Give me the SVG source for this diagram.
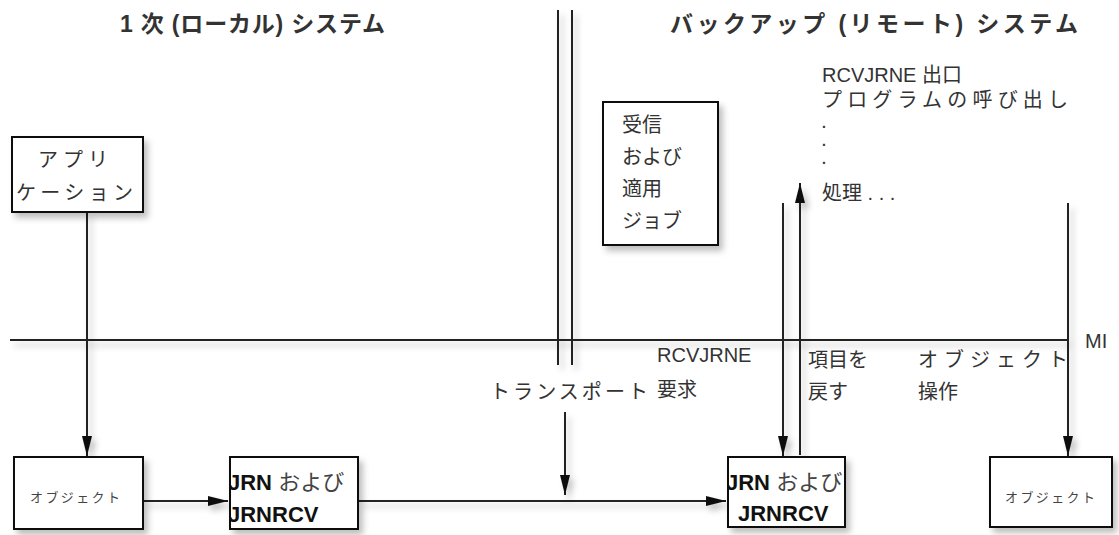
<svg xmlns="http://www.w3.org/2000/svg" width="1119" height="535" viewBox="0 0 1119 535">
<defs>
<filter id="sh" filterUnits="userSpaceOnUse" x="0" y="0" width="1119" height="535">
<feDropShadow dx="4" dy="5" stdDeviation="3" flood-color="#000" flood-opacity="0.25"/>
</filter>
<marker id="ah" markerWidth="20" markerHeight="10" refX="20" refY="5" orient="auto" markerUnits="userSpaceOnUse">
<path d="M0,0 L20,5 L0,10 z" fill="#111"/>
</marker>
<clipPath id="c1"><rect x="231" y="458" width="126" height="70"/></clipPath>
<clipPath id="c2"><rect x="729" y="458" width="115" height="68"/></clipPath>
</defs>
<style>
.box{fill:#fff;stroke:#111;stroke-width:2}
.ln{stroke:#222;stroke-width:2;fill:none}
.t{font-family:"Liberation Sans","Noto Sans CJK JP",sans-serif;font-size:20px;fill:#333}
.tt{font-family:"Liberation Sans","Noto Sans CJK JP",sans-serif;font-size:23px;font-weight:bold;fill:#333}
.b{font-family:"Liberation Sans","Noto Sans CJK JP",sans-serif;font-size:22px;font-weight:bold;fill:#111}
.n{font-weight:normal;fill:#444}
.s{font-family:"Liberation Sans","Noto Sans CJK JP",sans-serif;font-size:13px;fill:#444}
.d{font-family:"Liberation Sans",sans-serif;font-size:14px;font-weight:bold;fill:#333}
</style>
<rect width="1119" height="535" fill="#fff"/>

<g id="titles">
<text class="tt" x="120" y="32" textLength="265" lengthAdjust="spacing">1 次 (ローカル) システム</text>
<text class="tt" x="670" y="32" textLength="408" lengthAdjust="spacing">バックアップ (リモート) システム</text>
</g>

<g id="connectors" filter="url(#sh)">
<line class="ln" x1="10" y1="340" x2="1068" y2="340"/>
<line class="ln" x1="558" y1="10" x2="558" y2="365"/>
<line class="ln" x1="572" y1="10" x2="572" y2="365"/>
<line class="ln" x1="87" y1="212" x2="87" y2="456" marker-end="url(#ah)"/>
<line class="ln" x1="143" y1="501" x2="228" y2="501" marker-end="url(#ah)"/>
<line class="ln" x1="358" y1="501" x2="726" y2="501" marker-end="url(#ah)"/>
<line class="ln" x1="565" y1="412" x2="565" y2="495" marker-end="url(#ah)"/>
<line class="ln" x1="783" y1="203" x2="783" y2="456" marker-end="url(#ah)"/>
<line class="ln" x1="800" y1="455" x2="800" y2="183" marker-end="url(#ah)"/>
<line class="ln" x1="1068" y1="203" x2="1068" y2="456" marker-end="url(#ah)"/>
</g>

<g id="app">
<rect class="box" x="12" y="137" width="131" height="75" filter="url(#sh)"/>
<text class="t" x="38" y="167" textLength="70" lengthAdjust="spacing">アプリ</text>
<text class="t" x="16" y="200" textLength="117" lengthAdjust="spacing">ケーション</text>
</g>

<g id="obj1">
<rect class="box" x="14" y="457" width="129" height="72" filter="url(#sh)"/>
<text class="s" x="30" y="502" textLength="90" lengthAdjust="spacing">オブジェクト</text>
</g>

<g id="jrn1">
<rect class="box" x="230" y="457" width="128" height="72" filter="url(#sh)"/>
<g clip-path="url(#c1)">
<text class="b" x="228" y="490">JRN <tspan class="n">および</tspan></text>
<text class="b" x="228" y="522">JRNRCV</text>
</g>
</g>

<g id="recv">
<rect class="box" x="603" y="102" width="115" height="143" filter="url(#sh)"/>
<text class="t" x="622" y="132">受信</text>
<text class="t" x="622" y="164">および</text>
<text class="t" x="622" y="196">適用</text>
<text class="t" x="622" y="228">ジョブ</text>
</g>

<g id="jrn2">
<rect class="box" x="728" y="457" width="117" height="70" filter="url(#sh)"/>
<g clip-path="url(#c2)">
<text class="b" x="726" y="490">JRN <tspan class="n">および</tspan></text>
<text class="b" x="738" y="521">JRNRCV</text>
</g>
</g>

<g id="obj2">
<rect class="box" x="990" y="457" width="122" height="70" filter="url(#sh)"/>
<text class="s" x="1005" y="502" textLength="90" lengthAdjust="spacing">オブジェクト</text>
</g>

<g id="labels">
<text class="t" x="822" y="82">RCVJRNE 出口</text>
<text class="t" x="822" y="107" textLength="246" lengthAdjust="spacing">プログラムの呼び出し</text>
<text class="d" x="822" y="128">.</text>
<text class="d" x="822" y="146">.</text>
<text class="d" x="822" y="164">.</text>
<text class="t" x="822" y="200">処理 . . .</text>
<text class="t" x="1085" y="348">MI</text>
<text class="t" x="657" y="362">RCVJRNE</text>
<text class="t" x="490" y="399" textLength="158" lengthAdjust="spacing">トランスポート</text>
<text class="t" x="657" y="397">要求</text>
<text class="t" x="808" y="367">項目を</text>
<text class="t" x="808" y="399">戻す</text>
<text class="t" x="918" y="367" textLength="150" lengthAdjust="spacing">オブジェクト</text>
<text class="t" x="918" y="399">操作</text>
</g>
</svg>
